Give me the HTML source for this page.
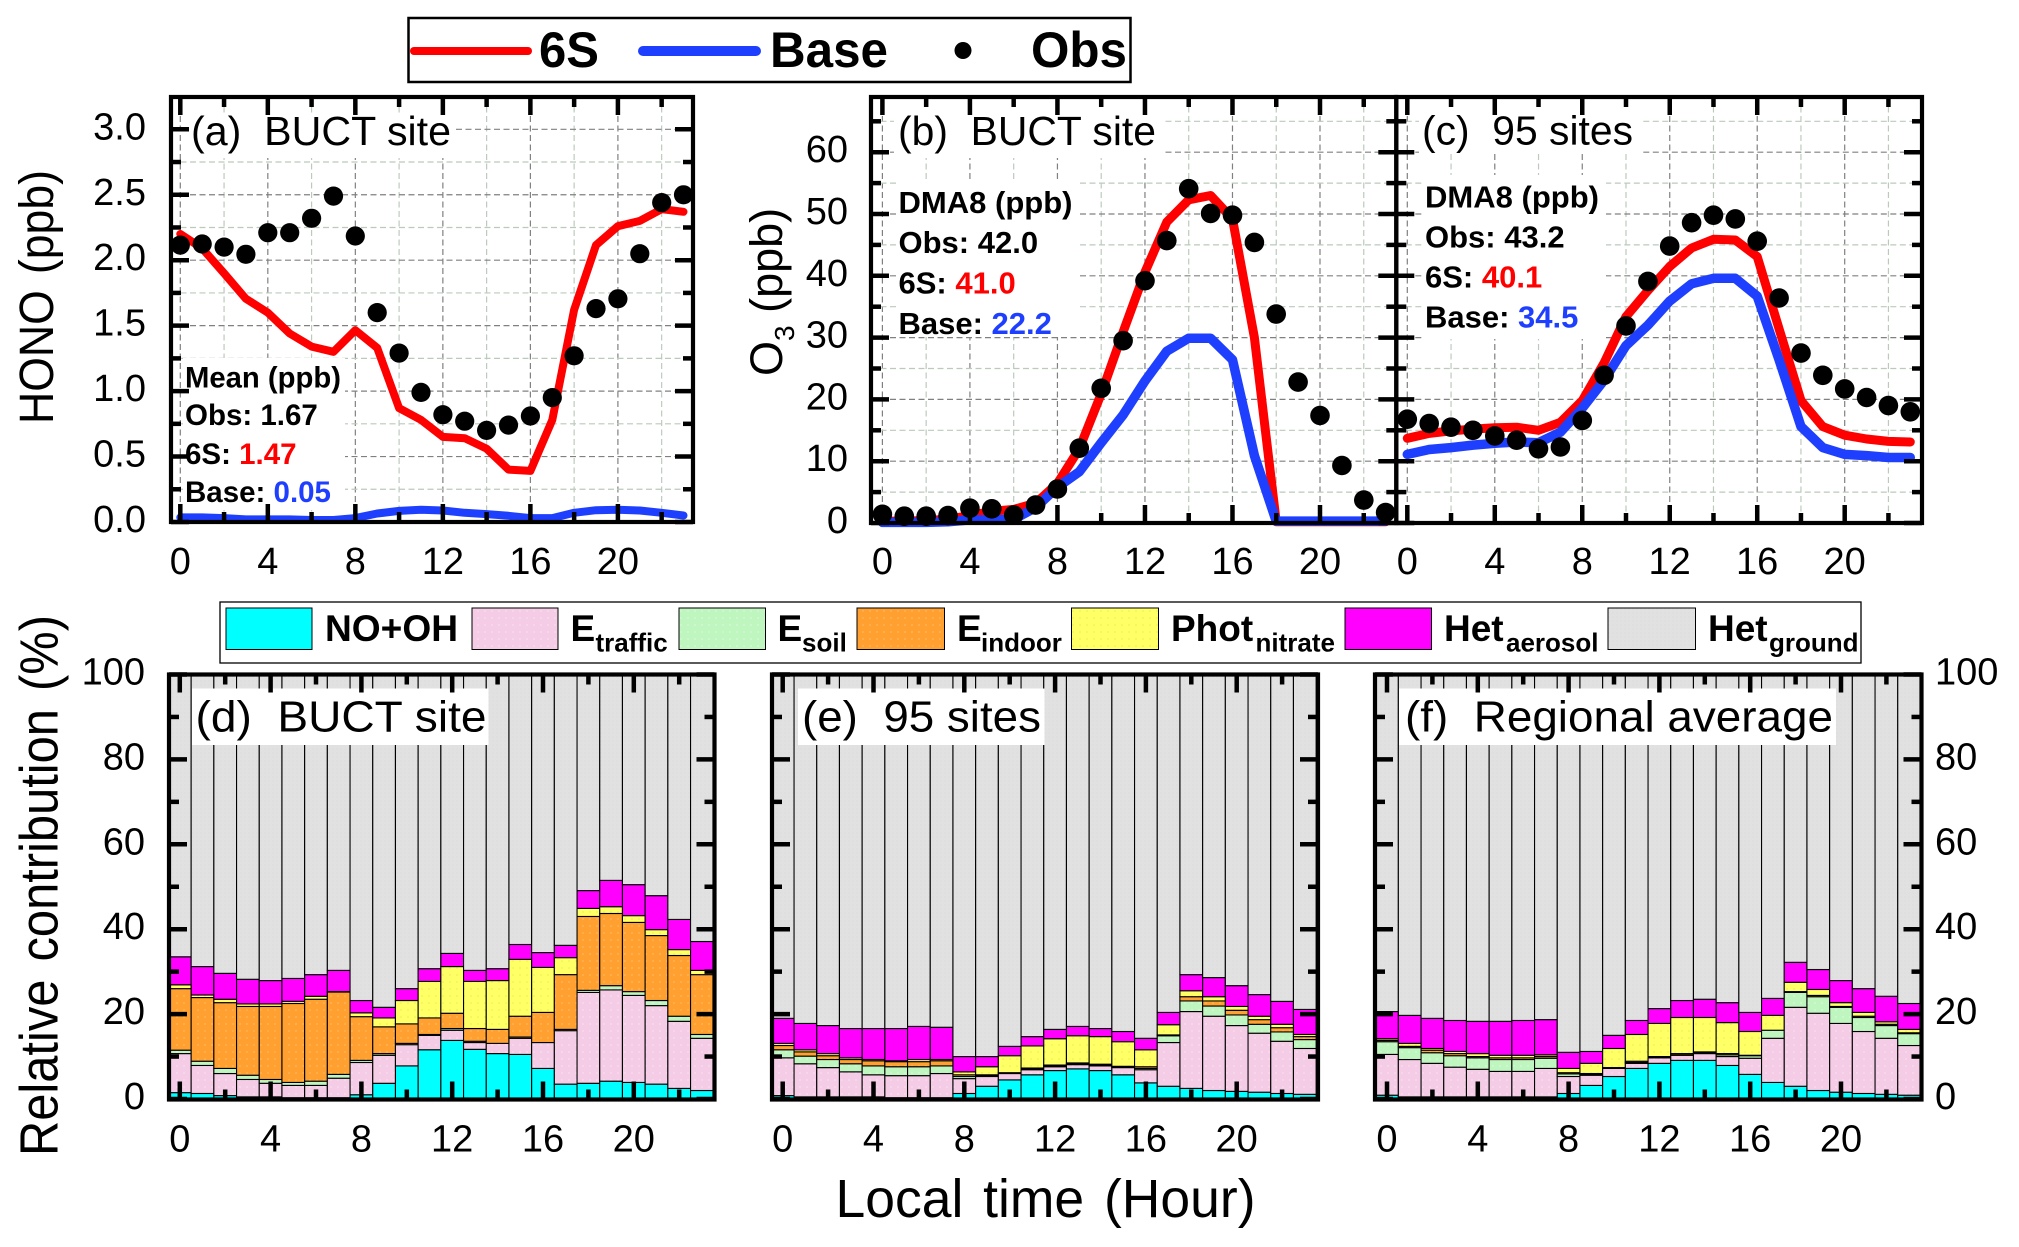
<!DOCTYPE html>
<html lang="en">
<head>
<meta charset="utf-8">
<title>HONO and O3 diurnal profiles with HONO source contributions</title>
<style>
html,body{margin:0;padding:0;background:#fff}
svg{display:block}
text{font-family:"Liberation Sans",sans-serif;fill:#000}
.b{font-weight:bold}
</style>
</head>
<body>
<svg id="chart" xmlns="http://www.w3.org/2000/svg" width="2019" height="1247" viewBox="0 0 2019 1247">
<defs>
<pattern id="fill-traffic" width="7" height="7" patternUnits="userSpaceOnUse"><rect width="7" height="7" fill="#f5cce6"/><circle cx="2" cy="2" r=".6" fill="#fff" opacity=".7"/></pattern>
<pattern id="fill-soil" width="7" height="7" patternUnits="userSpaceOnUse"><rect width="7" height="7" fill="#bff5bf"/><circle cx="2" cy="2" r=".6" fill="#fff" opacity=".7"/></pattern>
<pattern id="fill-indoor" width="7" height="7" patternUnits="userSpaceOnUse"><rect width="7" height="7" fill="#ffa030"/><circle cx="2" cy="2" r=".6" fill="#ffd9a0" opacity=".8"/></pattern>
<pattern id="fill-phot" width="7" height="7" patternUnits="userSpaceOnUse"><rect width="7" height="7" fill="#ffff66"/><circle cx="2" cy="2" r=".6" fill="#d8d840" opacity=".8"/></pattern>
<pattern id="fill-ground" width="4" height="4" patternUnits="userSpaceOnUse"><rect width="4" height="4" fill="#e1e1e1"/><circle cx="1" cy="1" r=".5" fill="#d6d6d6"/></pattern>
</defs>

<rect x="0" y="0" width="2019" height="1247" fill="#fff"/>

<!-- top legend -->
<g>
  <rect x="408.5" y="18" width="722" height="64" fill="#fff" stroke="#000" stroke-width="2.5"/>
  <line x1="414" y1="51" x2="528" y2="51" stroke="#ff0000" stroke-width="8" stroke-linecap="round"/>
  <text class="b" x="539" y="67" font-size="50" textLength="60" lengthAdjust="spacingAndGlyphs">6S</text>
  <line x1="643" y1="51" x2="756" y2="51" stroke="#1f3fff" stroke-width="10" stroke-linecap="round"/>
  <text class="b" x="770" y="67" font-size="50" textLength="118" lengthAdjust="spacingAndGlyphs">Base</text>
  <circle cx="963" cy="50.5" r="8.5" fill="#000"/>
  <text class="b" x="1031" y="67" font-size="50" textLength="96" lengthAdjust="spacingAndGlyphs">Obs</text>
</g>

<!-- source legend -->
<g>
  <rect x="220" y="602" width="1641" height="61" fill="#fff" stroke="#000" stroke-width="1.3"/>
  <rect x="226" y="608" width="86" height="41.5" fill="#00ffff" stroke="#000" stroke-width="1"/>
  <text class="b" x="325" y="641" font-size="37" textLength="133" lengthAdjust="spacingAndGlyphs">NO+OH</text>
  <rect x="472" y="608" width="86" height="41.5" fill="url(#fill-traffic)" stroke="#000" stroke-width="1"/>
  <text class="b" font-size="37"><tspan x="570.5" y="641">E</tspan><tspan x="595.5" y="651.5" font-size="26">traffic</tspan></text>
  <rect x="679" y="608" width="86.5" height="41.5" fill="url(#fill-soil)" stroke="#000" stroke-width="1"/>
  <text class="b" font-size="37"><tspan x="777.5" y="641">E</tspan><tspan x="802" y="651.5" font-size="26">soil</tspan></text>
  <rect x="857" y="608" width="87.5" height="41.5" fill="url(#fill-indoor)" stroke="#000" stroke-width="1"/>
  <text class="b" font-size="37"><tspan x="957" y="641">E</tspan><tspan x="981" y="651.5" font-size="26">indoor</tspan></text>
  <rect x="1071.5" y="608" width="87" height="41.5" fill="url(#fill-phot)" stroke="#000" stroke-width="1"/>
  <text class="b" font-size="37"><tspan x="1171" y="641">Phot</tspan><tspan x="1255.5" y="651.5" font-size="26">nitrate</tspan></text>
  <rect x="1345" y="608" width="86.5" height="41.5" fill="#ff00ff" stroke="#000" stroke-width="1"/>
  <text class="b" font-size="37"><tspan x="1444" y="641">Het</tspan><tspan x="1506" y="651.5" font-size="26">aerosol</tspan></text>
  <rect x="1608" y="608" width="87.5" height="41.5" fill="url(#fill-ground)" stroke="#000" stroke-width="1"/>
  <text class="b" font-size="37"><tspan x="1708" y="641">Het</tspan><tspan x="1769" y="651.5" font-size="26">ground</tspan></text>
</g>

<!-- panel layers -->
<g id="grid-a"></g>
<g id="grid-b"></g>
<g id="grid-c"></g>

<rect x="186" y="113" width="267" height="45" fill="#fff"/>
<rect x="183" y="358" width="162" height="152" fill="#fff"/>
<rect x="894" y="101" width="268" height="57" fill="#fff"/>
<rect x="897" y="179" width="183" height="158" fill="#fff"/>
<rect x="1419" y="101" width="222" height="52" fill="#fff"/>
<rect x="1423" y="175" width="183" height="164" fill="#fff"/>

<g id="marks-a"></g>
<g id="marks-b"></g>
<g id="marks-c"></g>

<g id="bars-d"></g>
<g id="bars-e"></g>
<g id="bars-f"></g>

<rect x="192" y="688.5" width="296.5" height="56.5" fill="#fff"/>
<rect x="798" y="688.5" width="246.5" height="56.5" fill="#fff"/>
<rect x="1399" y="688.5" width="437" height="56.5" fill="#fff"/>

<g id="axes"></g>

<!-- panel titles -->
<text x="191" y="145" font-size="41" textLength="260" lengthAdjust="spacingAndGlyphs" xml:space="preserve">(a)  BUCT site</text>
<text x="898" y="145" font-size="41" textLength="258" lengthAdjust="spacingAndGlyphs" xml:space="preserve">(b)  BUCT site</text>
<text x="1422" y="144.5" font-size="41" textLength="211" lengthAdjust="spacingAndGlyphs" xml:space="preserve">(c)  95 sites</text>
<text x="195.5" y="731.5" font-size="44" textLength="291" lengthAdjust="spacingAndGlyphs" xml:space="preserve">(d)  BUCT site</text>
<text x="802" y="731.5" font-size="44" textLength="239" lengthAdjust="spacingAndGlyphs" xml:space="preserve">(e)  95 sites</text>
<text x="1405" y="731.5" font-size="44" textLength="428" lengthAdjust="spacingAndGlyphs" xml:space="preserve">(f)  Regional average</text>

<!-- stats -->
<g class="b" font-weight="bold" font-size="29.5">
  <text x="185" y="387.5" textLength="156" lengthAdjust="spacingAndGlyphs">Mean (ppb)</text>
  <text x="185" y="425">Obs: 1.67</text>
  <text x="185" y="464">6S: <tspan style="fill:#ff0000">1.47</tspan></text>
  <text x="185" y="502">Base: <tspan style="fill:#1f3fff">0.05</tspan></text>
</g>
<g class="b" font-weight="bold" font-size="31">
  <text x="898.5" y="213" textLength="174" lengthAdjust="spacingAndGlyphs">DMA8 (ppb)</text>
  <text x="898.5" y="253">Obs: 42.0</text>
  <text x="898.5" y="293.5">6S: <tspan style="fill:#ff0000">41.0</tspan></text>
  <text x="898.5" y="334">Base: <tspan style="fill:#1f3fff">22.2</tspan></text>
</g>
<g class="b" font-weight="bold" font-size="31">
  <text x="1425" y="207.5" textLength="174" lengthAdjust="spacingAndGlyphs">DMA8 (ppb)</text>
  <text x="1425" y="247.5">Obs: 43.2</text>
  <text x="1425" y="287.5">6S: <tspan style="fill:#ff0000">40.1</tspan></text>
  <text x="1425" y="327.5">Base: <tspan style="fill:#1f3fff">34.5</tspan></text>
</g>

<!-- axis titles -->
<text transform="translate(53 424) rotate(-90)" font-size="48" textLength="254" lengthAdjust="spacingAndGlyphs" style="word-spacing:4px">HONO (ppb)</text>
<text transform="translate(782 376) rotate(-90)" font-size="45" xml:space="preserve">O<tspan font-size="28" dy="12">3</tspan><tspan dy="-12"> (ppb)</tspan></text>
<text transform="translate(57.5 1156) rotate(-90)" font-size="54" textLength="541" lengthAdjust="spacingAndGlyphs" style="word-spacing:5px">Relative contribution (%)</text>
<text x="835.5" y="1217" font-size="54" textLength="420" lengthAdjust="spacingAndGlyphs" style="word-spacing:5px">Local time (Hour)</text>

<script>
const hours = [0,1,2,3,4,5,6,7,8,9,10,11,12,13,14,15,16,17,18,19,20,21,22,23];

const xMajorTicks = [0,4,8,12,16,20];
const xMinorTicks = [2,6,10,14,18,22];
const honoMajorTicks = [0,0.5,1,1.5,2,2.5,3];
const honoMinorTicks = [0.25,0.75,1.25,1.75,2.25,2.75];
const honoTickLabels = ['0.0','0.5','1.0','1.5','2.0','2.5','3.0'];
const o3MajorTicks = [0,10,20,30,40,50,60];
const o3MinorTicks = [5,15,25,35,45,55,65];
const o3TickLabels = ['0','10','20','30','40','50','60'];
const pctMajorTicks = [0,20,40,60,80,100];
const pctMinorTicks = [10,30,50,70,90];
const pctTickLabels = ['0','20','40','60','80','100'];

const honoObs = [2.115,2.124,2.10,2.045,2.21,2.21,2.32,2.49,2.185,1.60,1.29,0.99,0.82,0.77,0.70,0.74,0.81,0.95,1.27,1.63,1.705,2.05,2.44,2.50];
const hono6S = [2.2,2.09,1.90,1.705,1.60,1.44,1.34,1.30,1.465,1.33,0.87,0.78,0.65,0.64,0.56,0.40,0.39,0.78,1.62,2.115,2.26,2.30,2.39,2.37];
const honoBase = [0.035,0.035,0.03,0.02,0.02,0.02,0.015,0.015,0.03,0.065,0.085,0.094,0.088,0.07,0.06,0.047,0.03,0.03,0.07,0.09,0.094,0.088,0.07,0.05];

const o3BuctObs = [1.4,1.1,1.1,1.2,2.4,2.3,1.3,2.9,5.5,12.1,21.8,29.5,39.2,45.7,54.1,50.1,49.8,45.4,33.8,22.8,17.4,9.3,3.7,1.7];
const o3Buct6S = [0.3,0.3,0.4,0.6,1.2,1.9,2.2,3.2,6.4,12,20.9,30.9,40.6,48.7,52.3,53,49.2,30,0.2,0.2,0.2,0.2,0.2,0.2];
const o3BuctBase = [0.1,0.1,0.1,0.2,0.5,0.5,0.6,2.5,5.8,8.3,13,17.5,23,27.8,29.9,29.9,26.4,10.9,0.3,0.3,0.3,0.3,0.3,0.3];

const o3SitesObs = [16.8,16.1,15.5,15.0,14.1,13.4,12.0,12.3,16.6,23.9,31.9,39.1,44.8,48.6,49.8,49.2,45.6,36.4,27.5,23.9,21.7,20.3,19,18];
const o3Sites6S = [13.7,14.5,14.9,15.2,15.4,15.5,15.0,16.3,19.8,25.9,33.4,37.6,41.5,44.5,45.9,45.8,43.1,31.4,19.8,15.6,14.2,13.6,13.2,13.1];
const o3SitesBase = [11.1,11.9,12.2,12.6,12.9,13.1,13,14.7,18.6,23.1,28.7,32,35.9,38.7,39.6,39.6,36.7,26.4,15.6,12.2,11.1,10.9,10.6,10.6];

const buctNoOh = [1.5,1.3,.8,.5,.5,.3,.3,.3,1.0,3.7,7.8,11.6,13.8,11.7,10.7,10.5,7.2,3.5,3.7,4.2,3.9,3.5,2.5,2.0];
const buctTraffic = [9.2,6.6,5.2,4.1,3.2,2.9,2.9,4.6,7.6,6.6,5.0,3.4,2.4,1.6,2.4,3.8,6.1,12.6,21.4,21.5,20.5,18.5,15.8,12.3];
const buctSoil = [.8,1.0,1.2,1.0,.9,.7,1.0,.9,.5,.4,.3,.2,.4,.3,0,.3,0,.3,.5,1.0,.9,1.2,1.2,.9];
const buctIndoor = [14.5,15.0,15.5,16.2,17.2,18.6,19.3,19.4,10.3,6.3,4.6,3.9,3.6,3.0,3.3,4.9,7.1,12.9,17.4,17.0,16.3,15.3,14.3,14.1];
const buctPhot = [.9,.6,.8,.6,.6,.5,.7,.1,.9,2.1,5.5,8.6,11.0,11.1,11.5,13.4,10.6,4.0,1.9,1.6,1.6,1.4,1.4,1.0];
const buctAerosol = [6.6,6.7,6.1,5.8,5.5,5.4,5.1,5.0,2.9,2.5,2.8,3.0,3.1,2.6,2.8,3.5,3.5,2.9,4.2,6.2,7.3,8.0,7.1,6.8];
const buctGround = [66.5,68.8,70.4,71.8,72.1,71.6,70.7,69.7,76.8,78.4,74.0,69.3,65.7,69.7,69.3,63.6,65.5,63.8,50.9,48.5,49.5,52.1,57.7,62.9];

const sitesNoOh = [.8,.5,.5,.5,.5,.3,.3,.3,1.3,3.0,4.5,5.7,6.7,7.1,6.7,5.7,3.8,3.0,2.5,2.0,1.8,1.6,1.3,1.1];
const sitesTraffic = [8.9,7.8,6.9,5.9,5.2,5.2,5.2,5.7,3.5,2.3,1.5,1.2,.9,1.0,1.1,1.7,3.1,10.3,18.1,17.5,15.5,13.9,12.3,10.8];
const sitesSoil = [1.9,1.8,1.9,1.9,2.1,2.1,2.1,1.8,.5,.2,.2,.2,.2,.2,.2,.2,.3,1.6,2.5,2.4,2.5,2.1,2.2,2.1];
const sitesIndoor = [1.0,1.0,.9,1.0,1.2,1.2,1.2,1.2,.4,.2,0,.2,.2,.2,.2,.1,.4,.2,1.0,1.2,1.1,1.1,1.0,.7];
const sitesPhot = [.5,.5,.5,.4,.3,.2,.5,.3,.7,1.9,4.0,5.2,6.2,6.4,6.5,5.8,4.0,2.4,1.4,1.0,.9,.8,.8,.5];
const sitesAerosol = [5.9,6.2,6.6,6.9,7.3,7.6,7.8,7.6,3.6,2.4,2.2,2.2,2.2,2.2,1.9,2.4,2.7,2.9,3.8,4.5,4.9,5.1,5.4,5.9];
const sitesGround = [81.0,82.2,82.7,83.4,83.4,83.4,82.9,83.1,90.0,90.0,87.6,85.3,83.6,82.9,83.4,84.1,85.7,79.6,70.7,71.4,73.3,75.4,77.0,78.9];

const regionNoOh = [.9,.5,.5,.5,.5,.5,.5,.5,1.3,3.2,5.3,7.2,8.4,9.1,9.1,7.9,5.8,3.9,3.0,2.0,1.6,1.3,1.1,.9];
const regionTraffic = [9.6,8.8,7.9,7.0,6.5,6.0,6.0,6.7,4.0,2.4,1.9,1.2,1.3,1.2,1.6,2.1,3.8,10.4,18.6,18.2,16.2,14.6,13.2,11.7];
const regionSoil = [3.0,2.8,2.5,2.7,2.7,2.8,2.8,2.4,.6,.2,.2,.2,.2,.1,.2,.4,.6,1.9,3.5,3.9,3.8,3.3,3.0,2.8];
const regionIndoor = [.3,.3,.6,.5,.3,.4,.4,.4,.3,.2,0,.3,.1,.3,.2,.3,.1,0,.2,.3,.2,.3,.3,.2];
const regionPhot = [.4,.7,.4,.5,.7,.6,.6,.4,1.0,2.4,4.5,6.3,7.8,8.5,8.1,7.3,5.6,3.5,2.2,1.4,.9,.9,.6,.8];
const regionAerosol = [6.4,6.6,7.1,7.3,7.6,8.0,8.2,8.3,3.8,2.8,3.1,3.3,3.5,4.0,4.3,4.7,4.5,4.0,4.7,4.7,5.2,5.6,6.0,6.1];
const regionGround = [79.4,80.3,81.0,81.5,81.7,81.7,81.5,81.3,89.0,88.8,85.0,81.5,78.7,76.8,76.5,77.3,79.6,76.3,67.8,69.5,72.1,74.0,75.8,77.5];

const NS = 'http://www.w3.org/2000/svg';

function make(parent, tag, props) {
  const el = document.createElementNS(NS, tag);
  for (const k in props) el.setAttribute(k, props[k]);
  parent.appendChild(el);
  return el;
}

function linearY(zeroPx, pxPerUnit) {
  return function (v) { return zeroPx - v * pxPerUnit; };
}
function linearX(zeroPx, pxPerHour) {
  return function (h) { return zeroPx + h * pxPerHour; };
}

const panelA = {key:'a', left:171, right:693, top:97, bottom:522, x:linearX(180.3,21.88), y:linearY(522,130.9), major:honoMajorTicks, minor:honoMinorTicks, labels:honoTickLabels, labelEdge:146, labelAnchor:'end', showLabels:true, redWidth:8, blueWidth:8, dotR:9.6};
const panelB = {key:'b', left:871, right:1396.3, top:97, bottom:523, x:linearX(882.4,21.88), y:linearY(523,6.18), major:o3MajorTicks, minor:o3MinorTicks, labels:o3TickLabels, labelEdge:848, labelAnchor:'end', showLabels:true, redWidth:9, blueWidth:9.5, dotR:9.8};
const panelC = {key:'c', left:1396.3, right:1922, top:97, bottom:523, x:linearX(1407.3,21.87), y:linearY(523,6.18), major:o3MajorTicks, minor:o3MinorTicks, labels:o3TickLabels, showLabels:false, redWidth:9, blueWidth:9.5, dotR:9.8};
const panelD = {key:'d', left:169, right:714.5, top:674.5, bottom:1099.5, x:linearX(179.8,22.7), y:linearY(1099,4.245), major:pctMajorTicks, minor:pctMinorTicks, labels:pctTickLabels, labelEdge:145, labelAnchor:'end', showLabels:true};
const panelE = {key:'e', left:772, right:1318, top:674.5, bottom:1099.5, x:linearX(782.7,22.7), y:linearY(1099,4.245), major:pctMajorTicks, minor:pctMinorTicks, labels:pctTickLabels, showLabels:false};
const panelF = {key:'f', left:1375, right:1921.5, top:674.5, bottom:1099.5, x:linearX(1387,22.7), y:linearY(1099,4.245), major:pctMajorTicks, minor:pctMinorTicks, labels:pctTickLabels, labelEdge:1935, labelAnchor:'start', showLabels:true};

function drawGrid(panel) {
  const g = document.getElementById('grid-' + panel.key);
  const styleFor = function (isMajor) {
    return {stroke: isMajor ? '#808080' : '#bccabc', 'stroke-width': 1.2, 'stroke-dasharray': '6 3.5'};
  };
  [[xMajorTicks,true],[xMinorTicks,false]].forEach(function (set) {
    set[0].forEach(function (t) {
      const px = panel.x(t);
      const el = make(g, 'line', Object.assign({x1:px, x2:px, y1:panel.top, y2:panel.bottom}, styleFor(set[1])));
      
      
    });
  });
  [[panel.major,true],[panel.minor,false]].forEach(function (set) {
    set[0].forEach(function (t) {
      const py = panel.y(t);
      const el = make(g, 'line', Object.assign({x1:panel.left, x2:panel.right, y1:py, y2:py}, styleFor(set[1])));
      
      
    });
  });
}

function drawLines(panel, sim6S, simBase, obs) {
  const g = document.getElementById('marks-' + panel.key);
  const toPoints = function (series) {
    return series.map(function (v, i) { return panel.x(hours[i]).toFixed(1) + ',' + panel.y(v).toFixed(1); }).join(' ');
  };
  const red = make(g, 'polyline', {points:toPoints(sim6S), fill:'none', stroke:'#ff0000', 'stroke-width':panel.redWidth, 'stroke-linejoin':'round', 'stroke-linecap':'round'});
  
  
  const blue = make(g, 'polyline', {points:toPoints(simBase), fill:'none', stroke:'#1f3fff', 'stroke-width':panel.blueWidth, 'stroke-linejoin':'round', 'stroke-linecap':'round'});
  
  
  obs.forEach(function (v, i) {
    const dot = make(g, 'circle', {cx:panel.x(hours[i]).toFixed(1), cy:panel.y(v).toFixed(1), r:panel.dotR, fill:'#000'});
    
    
  });
}

function drawBars(panel, stack) {
  const g = document.getElementById('bars-' + panel.key);
  const halfWidth = 11.35;
  hours.forEach(function (h, i) {
    let base = 0;
    stack.forEach(function (layer) {
      const v = layer.values[i];
      const yTop = panel.y(base + v);
      const yBottom = panel.y(base);
      const rect = make(g, 'rect', {
        x:(panel.x(h) - halfWidth).toFixed(2),
        y:yTop.toFixed(2),
        width:(2 * halfWidth).toFixed(2),
        height:Math.max(0, yBottom - yTop).toFixed(2),
        fill:layer.fill, stroke:'#000', 'stroke-width':1.1
      });
      
      
      base += v;
    });
  });
}

function drawAxes(panel) {
  const g = document.getElementById('axes');
  const group = make(g, 'g', {});
  
  
  const majorLen = 18, minorLen = 10;
  const tick = function (x1, y1, x2, y2, name) {
    const el = make(group, 'line', {x1:x1, y1:y1, x2:x2, y2:y2, stroke:'#000', 'stroke-width':4.5});
    
    
  };
  [[xMajorTicks,majorLen],[xMinorTicks,minorLen]].forEach(function (set) {
    set[0].forEach(function (t) {
      const px = panel.x(t);
      tick(px, panel.bottom, px, panel.bottom - set[1], 'x-axis-tick');
      tick(px, panel.top, px, panel.top + set[1], 'x-axis-top-tick');
    });
  });
  [[panel.major,majorLen],[panel.minor,minorLen]].forEach(function (set) {
    set[0].forEach(function (t) {
      const py = panel.y(t);
      tick(panel.left, py, panel.left + set[1], py, 'y-axis-tick');
      tick(panel.right, py, panel.right - set[1], py, 'y-axis-right-tick');
    });
  });
  const frame = make(group, 'rect', {x:panel.left, y:panel.top, width:panel.right - panel.left, height:panel.bottom - panel.top, fill:'none', stroke:'#000', 'stroke-width':4.2});
  
  

  const xLabelY = panel.top > 500 ? 1151.5 : 574;
  xMajorTicks.forEach(function (t) {
    const label = make(group, 'text', {x:panel.x(t).toFixed(1), y:xLabelY, 'font-size':38, 'text-anchor':'middle'});
    label.textContent = String(t);
    
    
  });
  if (panel.showLabels) {
    panel.major.forEach(function (t, i) {
      const label = make(group, 'text', {x:panel.labelEdge, y:(panel.y(t) + 10).toFixed(1), 'font-size':38, 'text-anchor':panel.labelAnchor});
      label.textContent = panel.labels[i];
      
      
    });
  }
}

function stackOf(noOh, traffic, soil, indoor, phot, aerosol, ground) {
  return [
    {name:'no-oh', values:noOh, fill:'#00ffff'},
    {name:'traffic', values:traffic, fill:'url(#fill-traffic)'},
    {name:'soil', values:soil, fill:'url(#fill-soil)'},
    {name:'indoor', values:indoor, fill:'url(#fill-indoor)'},
    {name:'phot-nitrate', values:phot, fill:'url(#fill-phot)'},
    {name:'het-aerosol', values:aerosol, fill:'#ff00ff'},
    {name:'het-ground', values:ground, fill:'url(#fill-ground)'}
  ];
}

[panelA, panelB, panelC].forEach(drawGrid);
drawLines(panelA, hono6S, honoBase, honoObs);
drawLines(panelB, o3Buct6S, o3BuctBase, o3BuctObs);
drawLines(panelC, o3Sites6S, o3SitesBase, o3SitesObs);
drawBars(panelD, stackOf(buctNoOh, buctTraffic, buctSoil, buctIndoor, buctPhot, buctAerosol, buctGround));
drawBars(panelE, stackOf(sitesNoOh, sitesTraffic, sitesSoil, sitesIndoor, sitesPhot, sitesAerosol, sitesGround));
drawBars(panelF, stackOf(regionNoOh, regionTraffic, regionSoil, regionIndoor, regionPhot, regionAerosol, regionGround));
[panelA, panelB, panelC, panelD, panelE, panelF].forEach(drawAxes);
</script>
</svg>
</body>
</html>
